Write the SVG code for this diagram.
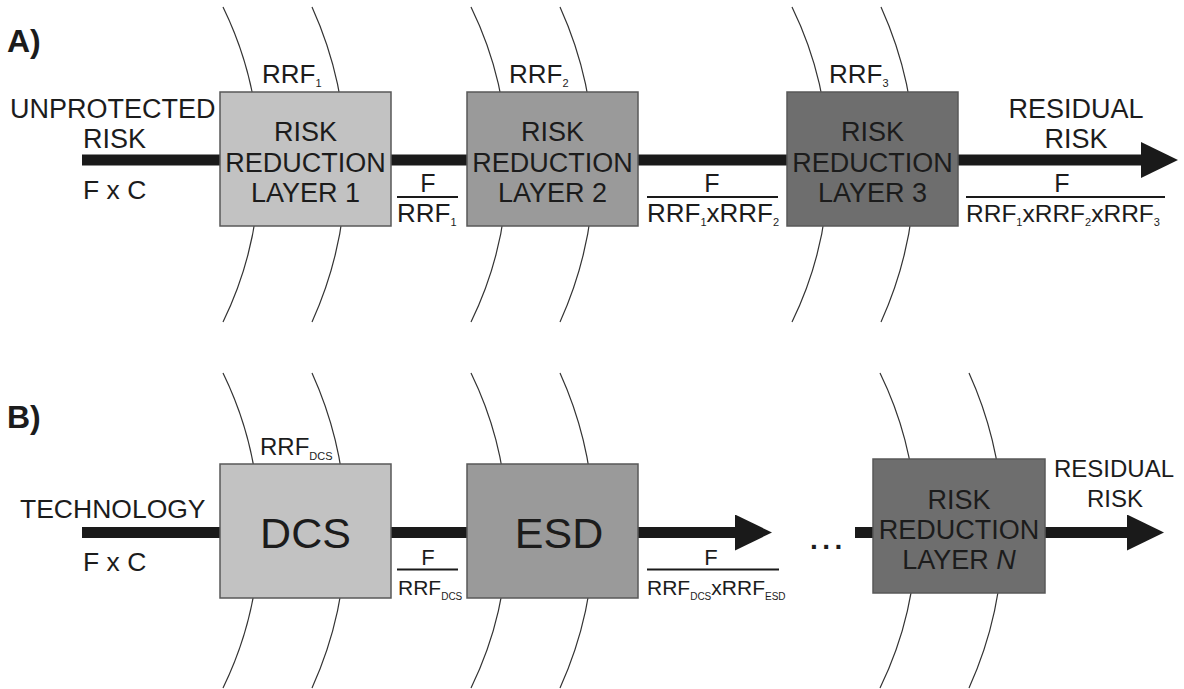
<svg xmlns="http://www.w3.org/2000/svg" xmlns:xlink="http://www.w3.org/1999/xlink" width="1184" height="689" viewBox="0 0 1184 689">
<style>
.t{font-family:"Liberation Sans",Arial,Helvetica,sans-serif;fill:#1c1c1c}
.c{text-anchor:middle}
.bt{font-size:27px}
.box{stroke:#585858;stroke-width:1.5}
.arc{fill:none;stroke:#333;stroke-width:1.2}
.flow{stroke:#1a1a1a;stroke-width:11;fill:none}
.bar{stroke:#1a1a1a;stroke-width:2}
.l1{fill:#c2c2c2}
.l2{fill:#9a9a9a}
.l3{fill:#6e6e6e}
</style>
<defs>
<path id="arcs" class="arc" d="M3 0 A359 359 0 0 1 3 315 M92 0 A382 382 0 0 1 92 315"/>
<marker id="head" markerUnits="userSpaceOnUse" viewBox="0 0 37 36" markerWidth="37" markerHeight="36" refX="0" refY="18" orient="auto">
<path d="M0 0 L37 18 L0 36 Z" fill="#1a1a1a"/>
</marker>
</defs>
<rect width="1184" height="689" fill="#fff"/>

<g id="arcs-layers">
<use xlink:href="#arcs" href="#arcs" x="220" y="7"/>
<use xlink:href="#arcs" href="#arcs" x="468" y="7"/>
<use xlink:href="#arcs" href="#arcs" x="789" y="7"/>
<use xlink:href="#arcs" href="#arcs" x="220" y="373"/>
<use xlink:href="#arcs" href="#arcs" x="468" y="373"/>
<use xlink:href="#arcs" href="#arcs" x="877" y="373"/>
</g>

<g id="connectors">
<line class="flow" x1="82" y1="160" x2="220" y2="160"/>
<line class="flow" x1="391" y1="160" x2="467" y2="160"/>
<line class="flow" x1="638" y1="160" x2="787" y2="160"/>
<line class="flow" x1="958" y1="160" x2="1141" y2="160" marker-end="url(#head)"/>
<line class="flow" x1="82" y1="532.5" x2="220" y2="532.5"/>
<line class="flow" x1="391" y1="532.5" x2="467" y2="532.5"/>
<line class="flow" x1="638" y1="532.5" x2="735" y2="532.5" marker-end="url(#head)"/>
<line class="flow" x1="855" y1="532.5" x2="873" y2="532.5"/>
<line class="flow" x1="1045" y1="532.5" x2="1127" y2="532.5" marker-end="url(#head)"/>
</g>

<g id="panel-labels">
<text class="t" x="7" y="52" font-size="32" font-weight="bold">A)</text>
<text class="t" x="7" y="428" font-size="32" font-weight="bold">B)</text>
</g>

<g id="input-a">
<text class="t" x="10" y="118" font-size="27">UNPROTECTED</text>
<text class="t" x="83" y="148" font-size="27">RISK</text>
<text class="t" x="83" y="199" font-size="26.5">F x C</text>
</g>

<g id="layer1">
<rect class="box l1" x="220" y="92" width="171" height="134"/>
<text class="t c bt" x="305.5" y="141">RISK</text>
<text class="t c bt" x="305.5" y="172">REDUCTION</text>
<text class="t c bt" x="305.5" y="202">LAYER 1</text>
<text class="t" font-size="26" x="262" y="83">RRF<tspan font-size="11" dy="4">1</tspan></text>
</g>

<g id="frac1">
<text class="t c" font-size="25" x="428" y="192">F</text>
<line class="bar" x1="397" y1="197" x2="458" y2="197"/>
<text class="t" font-size="26" x="397" y="222">RRF<tspan font-size="11" dy="4">1</tspan></text>
</g>

<g id="layer2">
<rect class="box l2" x="467" y="92" width="171" height="134"/>
<text class="t c bt" x="552.5" y="141">RISK</text>
<text class="t c bt" x="552.5" y="172">REDUCTION</text>
<text class="t c bt" x="552.5" y="202">LAYER 2</text>
<text class="t" font-size="26" x="509" y="83">RRF<tspan font-size="11" dy="4">2</tspan></text>
</g>

<g id="frac2">
<text class="t c" font-size="25" x="712" y="192">F</text>
<line class="bar" x1="647" y1="197" x2="778" y2="197"/>
<text class="t" font-size="26" x="647" y="222">RRF<tspan font-size="11" dy="4">1</tspan><tspan dy="-4">xRRF</tspan><tspan font-size="11" dy="4">2</tspan></text>
</g>

<g id="layer3">
<rect class="box l3" x="787" y="92" width="171" height="134"/>
<text class="t c bt" x="872.5" y="141">RISK</text>
<text class="t c bt" x="872.5" y="172">REDUCTION</text>
<text class="t c bt" x="872.5" y="202">LAYER 3</text>
<text class="t" font-size="26" x="829" y="83">RRF<tspan font-size="11" dy="4">3</tspan></text>
</g>

<g id="output-a">
<text class="t c" font-size="27" x="1076" y="118">RESIDUAL</text>
<text class="t c" font-size="27" x="1076" y="148">RISK</text>
<text class="t c" font-size="25" x="1062" y="192">F</text>
<line class="bar" x1="966" y1="197" x2="1165" y2="197"/>
<text class="t" font-size="24.5" x="966" y="222">RRF<tspan font-size="11" dy="4">1</tspan><tspan dy="-4">xRRF</tspan><tspan font-size="11" dy="4">2</tspan><tspan dy="-4">xRRF</tspan><tspan font-size="11" dy="4">3</tspan></text>
</g>

<g id="input-b">
<text class="t" x="20" y="518" font-size="26.5">TECHNOLOGY</text>
<text class="t" x="83" y="571" font-size="26.5">F x C</text>
</g>

<g id="dcs">
<rect class="box l1" x="220" y="464" width="171" height="134"/>
<text class="t c" font-size="43" x="305.5" y="548">DCS</text>
<text class="t" font-size="24" x="260" y="455">RRF<tspan font-size="11" dy="5">DCS</tspan></text>
</g>

<g id="frac-dcs">
<text class="t c" font-size="22" x="428" y="565">F</text>
<line class="bar" x1="397" y1="569.5" x2="458" y2="569.5"/>
<text class="t" font-size="21" x="398" y="595">RRF<tspan font-size="10" dy="5">DCS</tspan></text>
</g>

<g id="esd">
<rect class="box l2" x="467" y="464" width="171" height="134"/>
<text class="t c" font-size="43" x="559" y="548">ESD</text>
</g>

<g id="frac-esd">
<text class="t c" font-size="22" x="711" y="565">F</text>
<line class="bar" x1="647" y1="569.5" x2="779" y2="569.5"/>
<text class="t" font-size="21" x="647" y="595">RRF<tspan font-size="10" dy="5">DCS</tspan><tspan dy="-5">xRRF</tspan><tspan font-size="10" dy="5">ESD</tspan></text>
</g>

<g id="ellipsis">
<text class="t" font-size="28" font-weight="bold" x="810" y="549" letter-spacing="4.5">...</text>
</g>

<g id="layerN">
<rect class="box l3" x="873" y="459" width="172" height="134"/>
<text class="t c bt" x="959" y="509">RISK</text>
<text class="t c bt" x="959" y="539">REDUCTION</text>
<text class="t c bt" x="959" y="569">LAYER <tspan font-style="italic">N</tspan></text>
</g>

<g id="output-b">
<text class="t c" font-size="24" x="1114" y="477">RESIDUAL</text>
<text class="t c" font-size="24" x="1115" y="507">RISK</text>
</g>
</svg>
